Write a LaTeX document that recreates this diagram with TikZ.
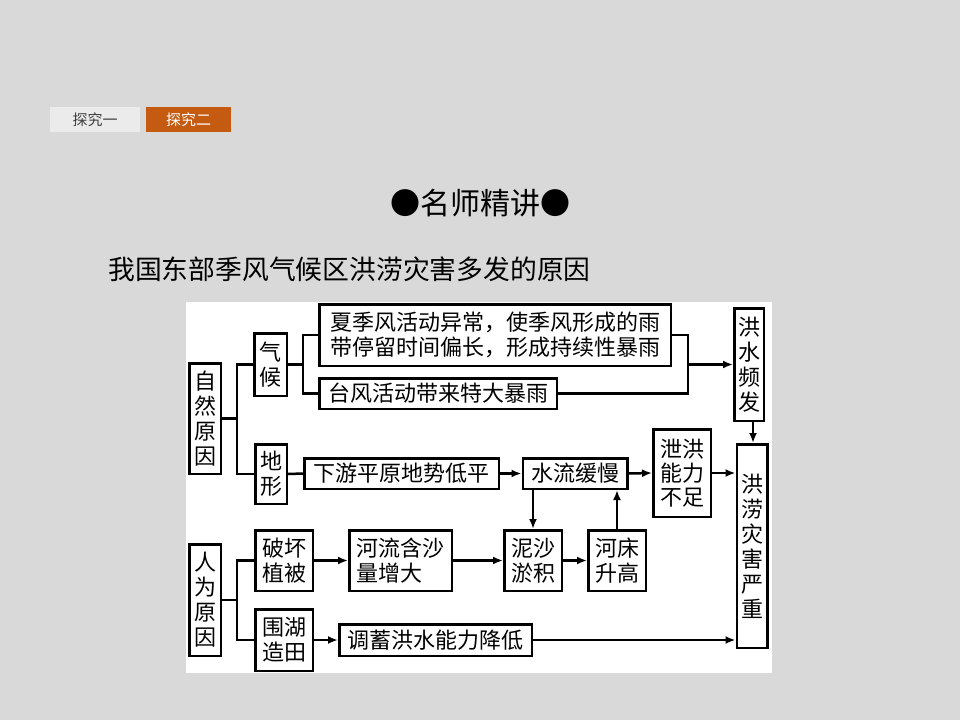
\documentclass[tikz,border=0pt]{standalone}
\usepackage{fontspec}
\setmainfont{Noto Sans CJK SC}
\usetikzlibrary{arrows.meta}
\definecolor{bggray}{HTML}{D9D9D9}
\definecolor{tabgray}{HTML}{EBEBEB}
\definecolor{taborange}{HTML}{C55A11}
\definecolor{tabtext}{HTML}{404040}
\begin{document}
\begin{tikzpicture}[x=1pt,y=-1pt,
  box/.style={draw=black, line width=2.5pt, fill=white, inner sep=0pt, align=center,
    font=\fontsize{22}{25}\selectfont},
  lbox/.style={box, align=left},
  link/.style={line width=2.5pt},
  arr/.style={line width=2.5pt, -{Latex[length=10pt,width=8pt]}},
  tab/.style={inner sep=0pt, minimum height=25pt, font=\fontsize{15}{18}\selectfont}]
\useasboundingbox (0,0) rectangle (960,720);
\fill[bggray] (0,0) rectangle (960,720);
% tabs
\node[tab, fill=tabgray, text=tabtext, minimum width=90pt] (tab1) at (95,119.5) {探究一};
\node[tab, fill=taborange, text=white, minimum width=85pt] (tab2) at (188.5,119.5) {探究二};
% titles
\node[font=\fontsize{30}{34}\selectfont, inner sep=0pt] (title) at (480,203) {●名师精讲●};
\node[font=\fontsize{26.8}{30}\selectfont, inner sep=0pt, anchor=west] (heading) at (108,269) {我国东部季风气候区洪涝灾害多发的原因};
% panel
\fill[white] (186,302) rectangle (772,673);
% boxes
\node[box, minimum width=31.5pt, minimum height=110.5pt] (ziran) at (205,418.5) {自\\然\\原\\因};
\node[box, minimum width=32.5pt, minimum height=62.5pt] (qihou) at (270.5,364.5) {气\\候};
\node[box, minimum width=31.5pt, minimum height=59.5pt] (dixing) at (271,474) {地\\形};
\node[lbox, minimum width=351.5pt, minimum height=61.5pt] (xiaji) at (495,335) {夏季风活动异常，使季风形成的雨\\带停留时间偏长，形成持续性暴雨};
\node[box, minimum width=237.5pt, minimum height=30.5pt] (taifeng) at (438,393.5) {台风活动带来特大暴雨};
\node[box, minimum width=29.5pt, minimum height=112.5pt] (hongshui) at (749,364.5) {洪\\水\\频\\发};
\node[box, minimum width=30.5pt, minimum height=203.5pt] (honglao) at (752,546) {洪\\涝\\灾\\害\\严\\重};
\node[box, minimum width=194.5pt, minimum height=30.5pt] (xiayou) at (401.5,473.5) {下游平原地势低平};
\node[box, minimum width=104.5pt, minimum height=30.5pt] (shuiliu) at (575,473.5) {水流缓慢};
\node[box, minimum width=57.5pt, minimum height=87.5pt, font=\fontsize{22}{24}\selectfont] (xiehong) at (682,473) {泄洪\\能力\\不足};
\node[box, minimum width=31.5pt, minimum height=111.5pt] (renwei) at (205,600) {人\\为\\原\\因};
\node[box, minimum width=57.5pt, minimum height=60.5pt] (pohuai) at (284,560.5) {破坏\\植被};
\node[lbox, minimum width=102.5pt, minimum height=60.5pt] (heliu) at (400.5,560.5) {河流含沙\\量增大};
\node[box, minimum width=57.5pt, minimum height=61.5pt] (weihu) at (284,640) {围湖\\造田};
\node[box, minimum width=192.5pt, minimum height=31.5pt] (tiaoxu) at (435.5,640) {调蓄洪水能力降低};
\node[box, minimum width=57.5pt, minimum height=60.5pt] (nisha) at (533,560.5) {泥沙\\淤积};
\node[box, minimum width=57.5pt, minimum height=60.5pt] (hechuang) at (617,560.5) {河床\\升高};
% junction coordinates
\coordinate (j1) at (237,418.5);
\coordinate (j2) at (303,364.5);
\coordinate (j3) at (688,364.5);
\coordinate (j4) at (237,600);
% plain links
\draw[link] (ziran.east) -- (j1);
\draw[link] (qihou.west) -| (j1) |- (dixing.west);
\draw[link] (qihou.east) -- (j2);
\draw[link] (xiaji.west) -| (j2) |- (taifeng.west);
\draw[link] (xiaji.east) -| (j3) |- (taifeng.east);
\draw[link] (dixing.east) -- (xiayou.west);
\draw[link] (renwei.east) -- (j4);
\draw[link] (pohuai.west) -| (j4) |- (weihu.west);
% arrows
\draw[arr] (j3) -- (hongshui.west);
\draw[arr] ([xshift=4pt]hongshui.south) -- ([xshift=4pt]hongshui.south |- honglao.north);
\draw[arr] (xiayou.east) -- (shuiliu.west);
\draw[arr] (shuiliu.east) -- (xiehong.west);
\draw[arr] (xiehong.east) -- (xiehong.east -| honglao.west);
\draw[arr] (nisha.north |- shuiliu.south) -- (nisha.north);
\draw[arr] (hechuang.north) -- (hechuang.north |- shuiliu.south);
\draw[arr] (pohuai.east) -- (heliu.west);
\draw[arr] (heliu.east) -- (nisha.west);
\draw[arr] (nisha.east) -- (hechuang.west);
\draw[arr] (weihu.east) -- (tiaoxu.west);
\draw[arr] (tiaoxu.east) -- (tiaoxu.east -| honglao.west);
\end{tikzpicture}
\end{document}
